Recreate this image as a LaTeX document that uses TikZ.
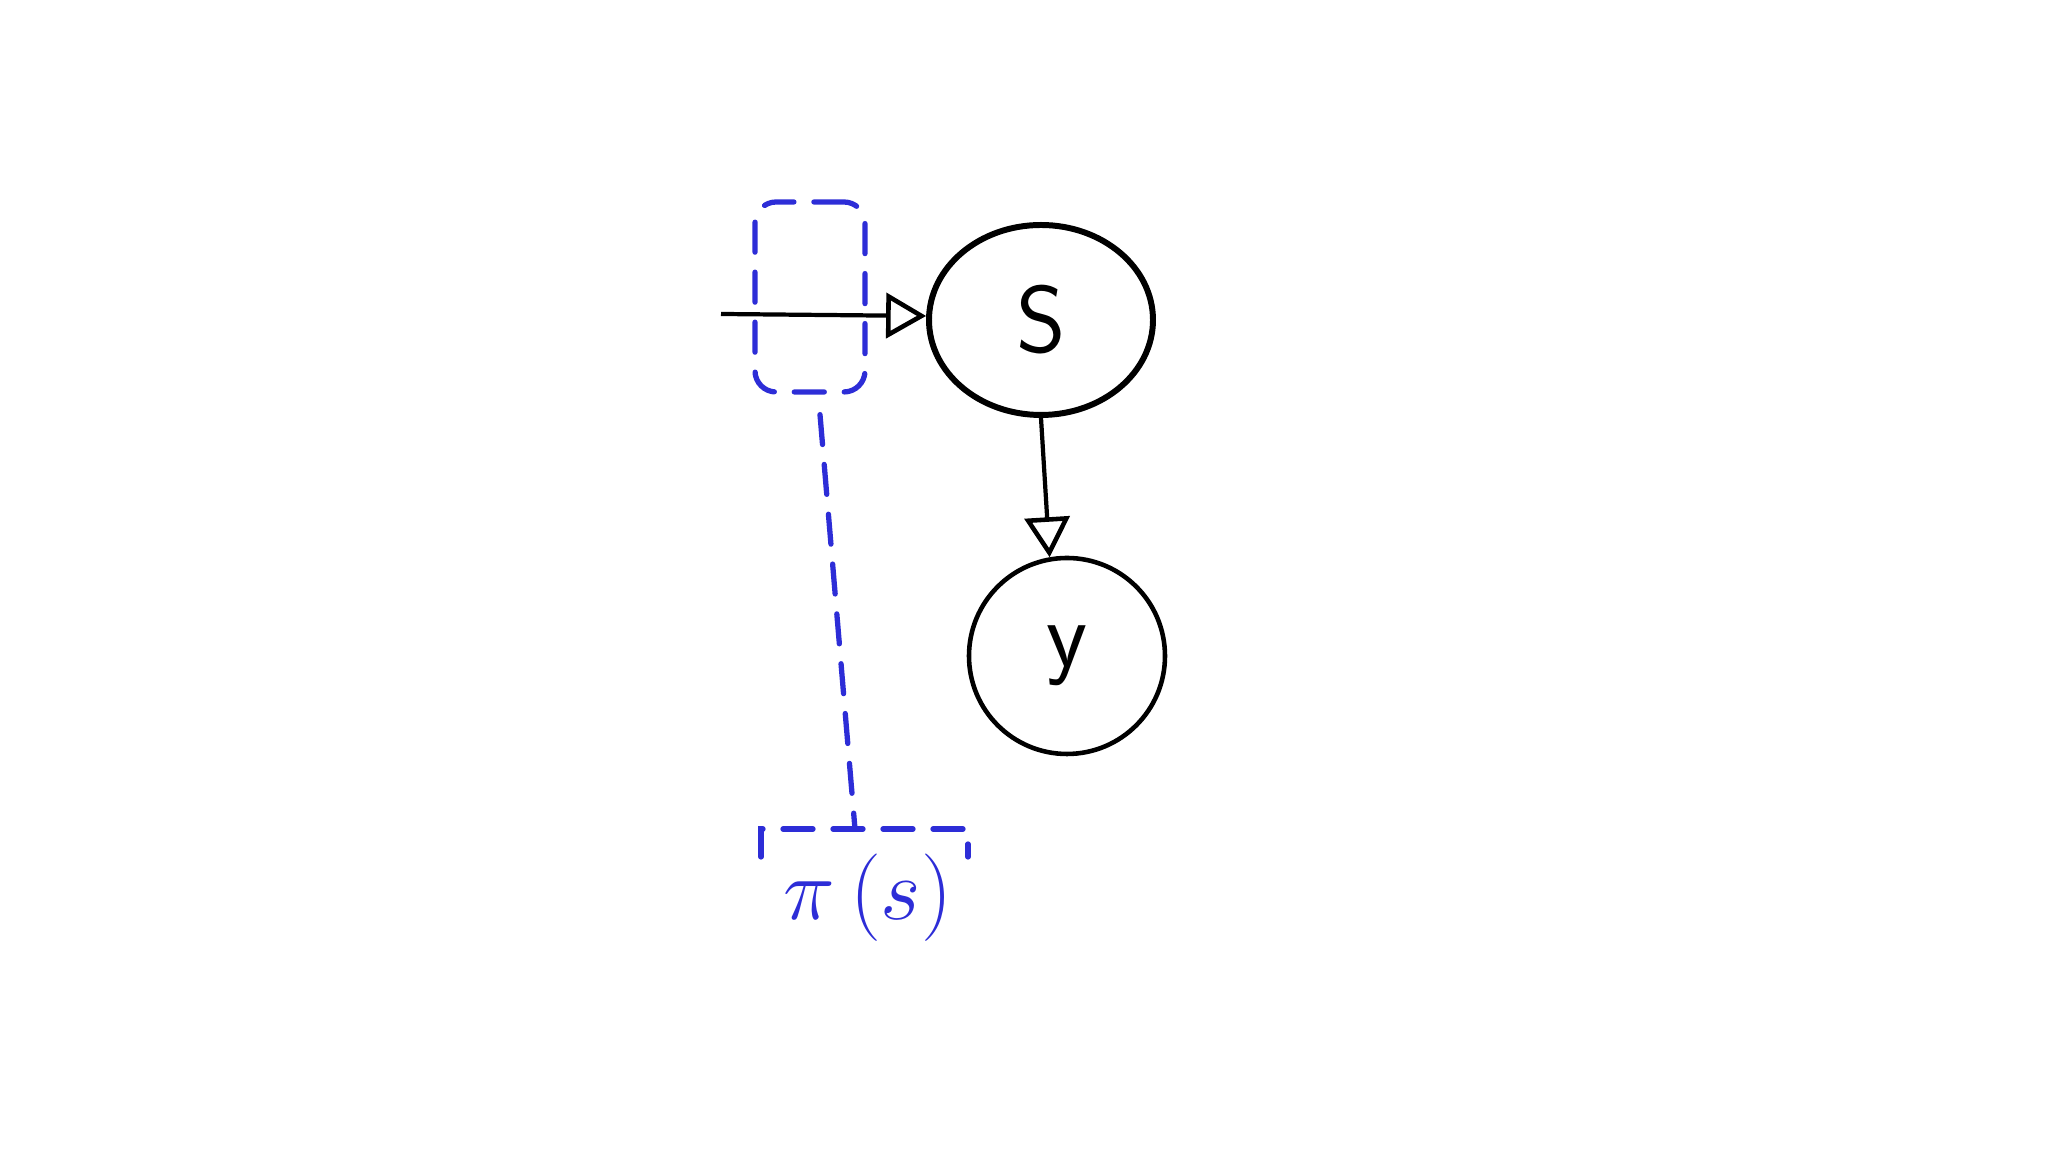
\documentclass[tikz,border=0pt]{standalone}
\usepackage{amsmath}
\usepackage{tikz}
\usetikzlibrary{arrows.meta,shapes.geometric}
\definecolor{penblue}{RGB}{45,45,215}
\tikzset{
  state/.style={draw=black, line width=1.3pt, circle, inner sep=0pt, font=\sffamily\fontsize{27}{30}\selectfont},
  flow/.style={draw=black, line width=1.2pt, -{Triangle[open, length=0.4cm, width=0.45cm, line width=1.3pt]}},
  pidash/.style={draw=penblue, line width=1.5pt, dash pattern=on 0.3cm off 0.2cm, line cap=round}
}
\begin{document}
\begin{tikzpicture}
  \useasboundingbox[fill=white] (0,0) rectangle (20.48,11.52);
  % states
  \node[state, ellipse, minimum width=2.24cm, minimum height=1.9cm, line width=1.7pt] (s) at (10.41,8.32) {S};
  \node[state, minimum size=1.96cm] (y) at (10.67,4.96) {y};
  \coordinate (in) at (7.21,8.38);
  \draw[flow] (in) -- (s.178);
  \draw[flow] (s.south) -- (y.100);
  % policy
  \node[pidash, rounded corners=6pt, minimum width=1.1cm, minimum height=1.9cm] (box) at (8.10,8.55) {};
  \node[text=penblue, font=\fontsize{25}{28}\selectfont] (pi) at (8.68,2.54) {$\pi\,(s)$};
  \coordinate (brk) at (8.55,3.23);
  \draw[pidash] ([xshift=1mm,yshift=-2mm]box.south) -- (brk);
  \draw[pidash] ([xshift=-9.4mm,yshift=-2.8mm]brk) -- ++(0,0.28) -- ++(2.07,0) -- ++(0,-0.28);
\end{tikzpicture}
\end{document}
